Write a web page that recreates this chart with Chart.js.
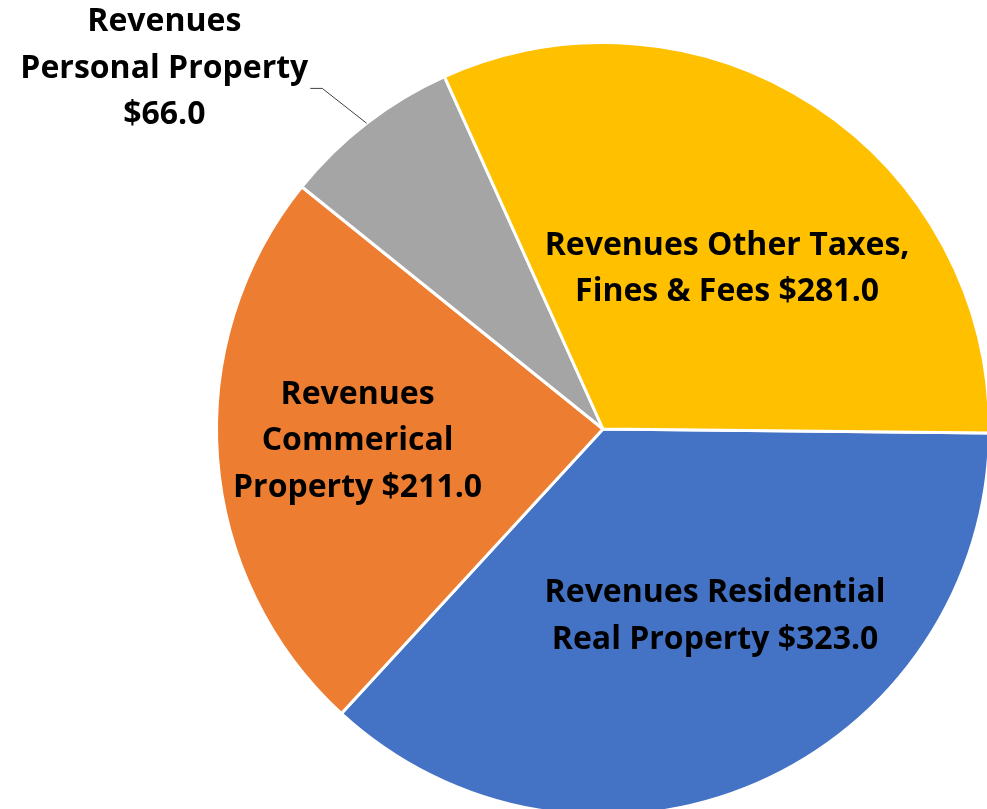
<!DOCTYPE html>
<html>
<head>
<meta charset="utf-8">
<script src="https://cdn.jsdelivr.net/npm/chart.js@4"></script>
<style>
  html, body { margin: 0; padding: 0; background: #fff; overflow: hidden; }
  #wrap { position: absolute; left: 0; top: 0; width: 1000px; height: 830px; }
</style>
</head>
<body>
<div id="wrap"><canvas id="myChart"></canvas></div>
<script>
// data
const categories = [
  'Revenues Residential Real Property',
  'Revenues Commerical Property',
  'Revenues Personal Property',
  'Revenues Other Taxes, Fines & Fees'
];
const values = [323, 211, 66, 281];
const colors = ['#4472C4', '#ED7D31', '#A5A5A5', '#FFC000'];

// label lines as shown on the chart (value appended later)
const labelLines = [
  ['Revenues Residential', 'Real Property $'],
  ['Revenues', 'Commerical', 'Property $'],
  ['Revenues', 'Personal Property', '$'],
  ['Revenues Other Taxes,', 'Fines & Fees $']
];
// label anchor, in units of the pie radius from its centre
const labelPos = [[0.29, 0.485], [-0.635, 0.031], [-1.135, -0.933], [0.321, -0.414]];

const labelPlugin = {
  id: 'pieLabels',
  afterDatasetsDraw(chart) {
    const ctx = chart.ctx;
    const meta = chart.getDatasetMeta(0);
    ctx.save();
    ctx.font = 'bold 32px "Open Sans"';
    ctx.fillStyle = '#000';
    ctx.textAlign = 'center';
    ctx.textBaseline = 'middle';
    meta.data.forEach((arc, i) => {
      const r = arc.outerRadius;
      const cx = arc.x + labelPos[i][0] * r;
      const cy = arc.y + labelPos[i][1] * r;
      const lines = labelLines[i].slice();
      lines[lines.length - 1] += values[i].toFixed(1);
      const lh = 46.5;
      const y0 = cy - (lines.length - 1) * lh / 2;
      lines.forEach((t, k) => ctx.fillText(t, cx, y0 + k * lh));

      if (i === 2) {
        // leader line to the slice edge
        const mid = (arc.startAngle + arc.endAngle) / 2;
        const ex = arc.x + Math.cos(mid) * r;
        const ey = arc.y + Math.sin(mid) * r;
        const w = ctx.measureText(lines[1]).width;
        const sx = cx + w / 2 + 2;
        const sy = y0 + lh + 20;
        ctx.strokeStyle = '#404040';
        ctx.lineWidth = 1;
        ctx.beginPath();
        ctx.moveTo(sx, sy);
        ctx.lineTo(sx + 12, sy);
        ctx.lineTo(ex, ey);
        ctx.stroke();
      }
    });
    ctx.restore();
  }
};

new Chart(document.getElementById('myChart'), {
  type: 'pie',
  data: {
    labels: categories,
    datasets: [{
      data: values,
      backgroundColor: colors,
      borderColor: '#fff',
      borderWidth: 3
    }]
  },
  options: {
    responsive: true,
    maintainAspectRatio: false,
    animation: false,
    rotation: 90.6,
    layout: { padding: { left: 215, top: 41, right: 9, bottom: 13 } },
    plugins: {
      legend: { display: false },
      tooltip: { enabled: false }
    }
  },
  plugins: [labelPlugin]
});
</script>
</body>
</html>
